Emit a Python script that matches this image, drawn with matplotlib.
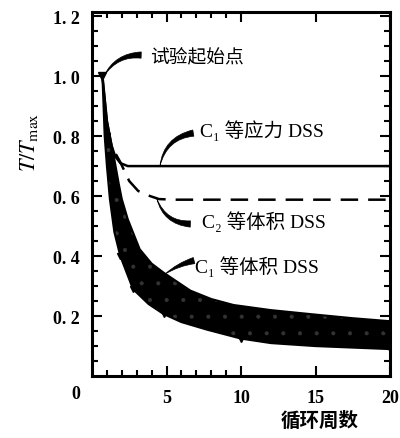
import numpy as np
import matplotlib
matplotlib.use('Agg')
import matplotlib.pyplot as plt
from matplotlib.ticker import FixedLocator

# -----------------------------------------------------------------------------
# datos
# -----------------------------------------------------------------------------
# punto de inicio del ensayo
x_inicio = [0.7]
y_inicio = [1.0]

# C1 esfuerzo constante (linea continua)
x_c1_esf = [0.7, 1.0, 1.3, 1.55, 1.9, 2.4, 3.0, 20.0]
y_c1_esf = [1.0, 0.85, 0.77, 0.733, 0.71, 0.70, 0.70, 0.70]

# C2 volumen constante (discontinua)
x_c2_vol = [1.6, 1.9, 2.5, 3.1, 3.9, 4.5, 5.5, 20.0]
y_c2_vol = [0.74, 0.713, 0.65, 0.617, 0.60, 0.59, 0.588, 0.588]

# C1 volumen constante (banda)
x_banda_inf = [0.7, 0.85, 1.0, 1.2, 1.5, 1.9, 2.75, 3.8, 4.8, 6.0, 7.7, 10.0, 12.0, 15.0, 17.5, 20.0]
y_banda_inf = [1.0, 0.80, 0.70, 0.59, 0.48, 0.40, 0.29, 0.24, 0.207, 0.18, 0.155, 0.125, 0.11, 0.10, 0.095, 0.09]
x_banda_sup = [0.7, 1.0, 1.4, 1.8, 2.0, 2.4, 3.2, 4.0, 4.8, 6.6, 8.0, 9.5, 12.0, 15.0, 17.5, 20.0]
y_banda_sup = [1.0, 0.85, 0.75, 0.64, 0.59, 0.523, 0.423, 0.375, 0.345, 0.285, 0.257, 0.237, 0.22, 0.205, 0.193, 0.183]

# marcas pequenas sobre el borde inferior de la banda
x_marcas = [1.0, 1.9, 2.75, 4.8, 10.0, 20.0]
y_marcas = [0.80, 0.40, 0.29, 0.207, 0.125, 0.09]

xticks = [5, 10, 15, 20]
xticklabels = ['5', '10', '15', '20']
yticks = [0.2, 0.4, 0.6, 0.8, 1.0, 1.2]
yticklabels = ['0. 2', '0. 4', '0. 6', '0. 8', '1. 0', '1. 2']

FUENTE = ['Liberation Serif', 'Noto Sans CJK SC', 'DejaVu Sans']
FUENTE_CJK = ['Noto Sans CJK SC', 'DejaVu Sans']

plt.rcParams['mathtext.fontset'] = 'stix'
plt.rcParams['hatch.linewidth'] = 0.5

# -----------------------------------------------------------------------------
fig = plt.figure(figsize=(4.0, 4.39), dpi=100)
ax = fig.add_axes([0.23, 0.141, 0.745, 0.829])

xb = np.linspace(0.7, 20, 400)
inf = np.interp(xb, x_banda_inf, y_banda_inf)
sup_x = np.interp(xb, x_banda_sup, y_banda_sup)
ax.fill_between(xb, np.minimum(inf, sup_x), np.maximum(inf, sup_x),
                facecolor='black', edgecolor='#333333', hatch='.', lw=0)
ax.plot(x_banda_inf, y_banda_inf, color='black', lw=1.5)
ax.plot(x_banda_sup, y_banda_sup, color='black', lw=1.5)
ax.plot(x_c1_esf, y_c1_esf, color='black', lw=1.8)
ax.plot(x_c2_vol, y_c2_vol, color='black', lw=1.8, dashes=(7, 4))
ax.plot(x_marcas, y_marcas, 'v', color='black', ms=5)
ax.plot(x_inicio, y_inicio, 'v', color='black', ms=6)

ax.set_xlim(0, 20)
ax.set_ylim(0, 1.213)
ax.set_xticks(xticks)
ax.set_xticklabels(xticklabels, family=FUENTE, fontsize=13, fontweight='bold')
ax.set_yticks(yticks)
ax.set_yticklabels(yticklabels, family=FUENTE, fontsize=13, fontweight='bold')
ax.xaxis.set_minor_locator(FixedLocator([1, 2, 3, 4, 6, 7, 8, 9]))
ax.yaxis.set_minor_locator(FixedLocator(np.arange(0.05, 1.21, 0.05)))
ax.tick_params(which='both', direction='in', top=True, right=True, width=1.5)
ax.tick_params(which='major', length=7)
ax.tick_params(which='minor', length=4)
ax.tick_params(axis='x', pad=9)
ax.tick_params(axis='y', pad=9)
for s in ax.spines.values():
    s.set_linewidth(2.2)

ax.text(-0.04, -0.025, '0', transform=ax.transAxes, ha='right', va='top',
        family=FUENTE, fontsize=13, fontweight='bold')
ax.set_ylabel(r'$T/T_{\rm max}$', fontsize=16)
ax.yaxis.set_label_coords(-0.175, 0.645)
ax.text(0.765, -0.095, '循环周数', transform=ax.transAxes, ha='center', va='top',
        family=FUENTE_CJK, fontsize=14, fontweight='bold')

# textos
ax.text(3.9, 1.063, '试验起始点', family=FUENTE_CJK, fontsize=13.5,
        va='center', ha='left')
ax.text(7.25, 0.823, 'C₁ 等应力 DSS', family=FUENTE, fontsize=14,
        va='center', ha='left')
ax.text(7.4, 0.517, 'C₂ 等体积 DSS', family=FUENTE, fontsize=14,
        va='center', ha='left')
ax.text(6.9, 0.367, 'C₁ 等体积 DSS', family=FUENTE, fontsize=14,
        va='center', ha='left')

# punteros en cuña (ancho del lado del texto)
cuna = dict(arrowstyle='wedge,tail_width=0.45,shrink_factor=0.5',
            color='black', lw=0.5, shrinkA=0, shrinkB=0)
ax.annotate('', xy=(0.8, 1.0), xytext=(3.3, 1.07),
            arrowprops=dict(cuna, connectionstyle='arc3,rad=0.3'))
ax.annotate('', xy=(4.56, 0.70), xytext=(6.8, 0.81),
            arrowprops=dict(cuna, connectionstyle='arc3,rad=0.35'))
ax.annotate('', xy=(4.36, 0.59), xytext=(6.6, 0.507),
            arrowprops=dict(cuna, connectionstyle='arc3,rad=-0.35'))
ax.annotate('', xy=(4.9, 0.34), xytext=(6.85, 0.385),
            arrowprops=dict(cuna, connectionstyle='arc3,rad=0.1'))

fig.savefig('out.png', dpi=100)
